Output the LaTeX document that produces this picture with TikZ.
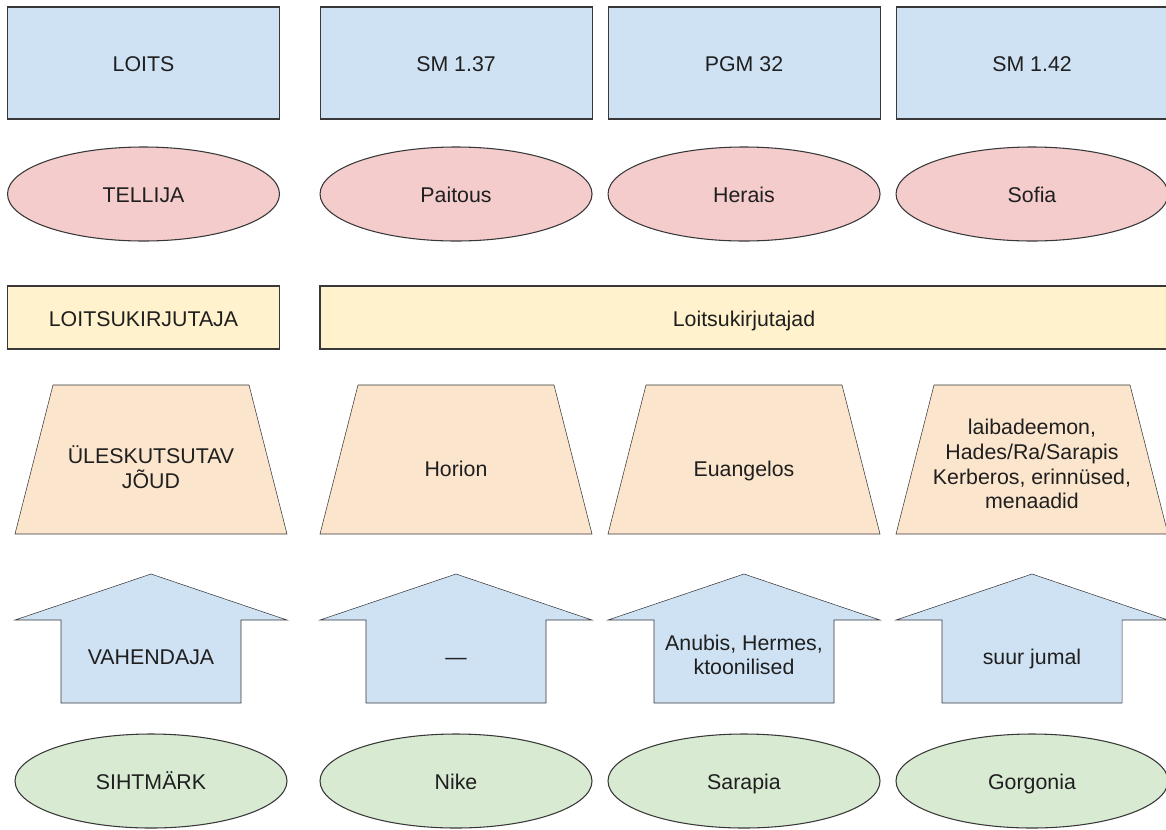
\documentclass[tikz,border=0pt]{standalone}
\usepackage{fontspec}
\setmainfont{Liberation Sans}
\usepackage{tikz}
\usetikzlibrary{shapes.geometric,positioning,backgrounds}

\definecolor{lightblue}{HTML}{CFE2F3}
\definecolor{lightred}{HTML}{F4CCCC}
\definecolor{lightyellow}{HTML}{FFF2CC}
\definecolor{lightorange}{HTML}{FCE5CD}
\definecolor{lightgreen}{HTML}{D9EAD3}
\definecolor{edgegray}{HTML}{383838}
\definecolor{textgray}{HTML}{1F1F1F}

\begin{document}
\begin{tikzpicture}[x=0.75pt,y=0.75pt,node distance=216pt,line width=0.8pt,
			every node/.style={font=\fontsize{16}{18.5}\selectfont,text=textgray,align=center,
				text height=16.4pt,text depth=3pt},
			spell node/.style={rectangle,draw=edgegray,fill=lightblue,minimum width=204pt,minimum height=84pt},
			client node/.style={ellipse,draw=edgegray,fill=lightred,minimum width=204pt,minimum height=70.5pt},
			writer node/.style={rectangle,draw=edgegray,fill=lightyellow,minimum height=47.25pt},
			power node/.style={rectangle,outer sep=0pt,minimum width=204pt,minimum height=111.75pt,text height=29.2pt},
			medium node/.style={rectangle,outer sep=0pt,minimum width=135pt,minimum height=62.25pt,text depth=12.6pt},
			target node/.style={ellipse,draw=edgegray,fill=lightgreen,minimum width=204pt,minimum height=70.5pt}]
			\useasboundingbox (0,0) rectangle (1166,-829);
			% loits
			\node[spell node] (1) at (143.5,-63) {LOITS};
			\node[spell node] (2) [right of=1, node distance=234.4pt] {SM 1.37};
			\node[spell node] (3) [right of=2] {PGM 32};
			\node[spell node] (4) [right of=3] {SM 1.42};
			% tellija
			\node[client node] (5) at (143.5,-194) {TELLIJA};
			\node[client node] (6) [right of=5, node distance=234.4pt] {Paitous};
			\node[client node] (7) [right of=6] {Herais};
			\node[client node] (8) [right of=7] {Sofia};
			% kirjutaja
			\node[writer node, minimum width=204pt] (9) at (143.5,-317.5) {LOITSUKIRJUTAJA};
			\node[writer node, minimum width=636pt] (10) at (744,-317.5) {Loitsukirjutajad};
			% jõud
			\node[power node, text height=45.8pt] (11) at (151,-459.5) {ÜLESKUTSUTAV\\JÕUD};
			\node[power node] (12) [right of=11, node distance=228.75pt] {Horion};
			\node[power node] (13) [right of=12] {Euangelos};
			\node[power node, text height=77.2pt] (14) [right of=13] {laibadeemon,\\Hades/Ra/Sarapis\\Kerberos, erinnüsed,\\menaadid};
			% vahendaja
			\node[medium node] (15) at (151,-661.5) {VAHENDAJA};
			\node[medium node] (16) [right of=15, node distance=228.75pt] {—};
			\node[medium node, text height=23.2pt, text depth=3pt] (17) [right of=16] {Anubis, Hermes,\\ktoonilised};
			\node[medium node] (18) [right of=17] {suur jumal};
			% sihtmärk
			\node[target node] (19) at (151,-781) {SIHTMÄRK};
			\node[target node] (20) [right of=19, node distance=228.75pt] {Nike};
			\node[target node] (21) [right of=20] {Sarapia};
			\node[target node] (22) [right of=21] {Gorgonia};
			\begin{scope}[on background layer]
			\fill[white] (0,0) rectangle (1166,-829);
			\foreach \n in {11,...,14}
			\filldraw[draw=edgegray,fill=lightorange] (\n.south west) -- ([xshift=28.5pt]\n.north west)
				-- ([xshift=-28.5pt]\n.north east) -- (\n.south east) -- cycle;
			\foreach \n in {15,...,18}
			\filldraw[draw=edgegray,fill=lightblue] (\n.south west) -- (\n.north west) -- ([xshift=-34.5pt]\n.north west)
				-- ([yshift=34.5pt]\n.north) -- ([xshift=34.5pt]\n.north east) -- (\n.north east) -- (\n.south east) -- cycle;
			\end{scope}
		\end{tikzpicture}
\end{document}
